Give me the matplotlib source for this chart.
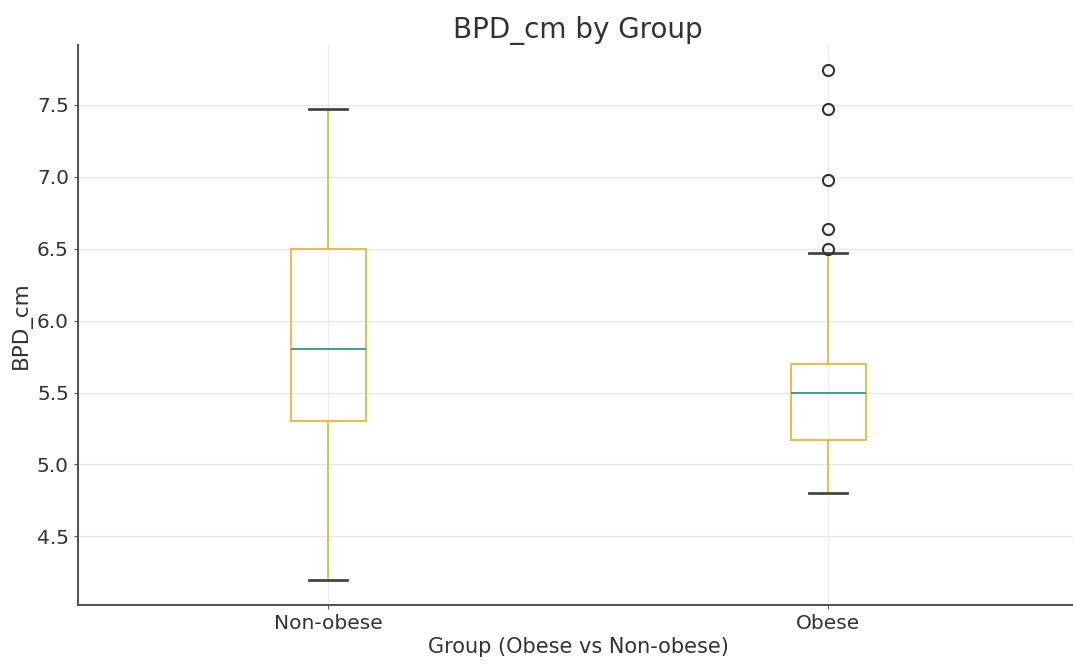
import matplotlib.pyplot as plt

plt.rcParams['font.family'] = ['DejaVu Sans']

# values
groups = ['Non-obese', 'Obese']
whisker_low = [4.2, 4.8]
q1 = [5.30, 5.17]
medians = [5.80, 5.50]
q3 = [6.50, 5.70]
whisker_high = [7.47, 6.47]
outliers = [[], [6.50, 6.64, 6.98, 7.47, 7.74]]

stats = []
for i, name in enumerate(groups):
    stats.append({
        'label': name,
        'whislo': whisker_low[i],
        'q1': q1[i],
        'med': medians[i],
        'q3': q3[i],
        'whishi': whisker_high[i],
        'fliers': outliers[i],
    })

fig = plt.figure(figsize=(10.73, 6.64), dpi=100)
ax = fig.add_axes([78 / 1073, (664 - 605) / 664, 1000 / 1073, 560 / 664])

orange = '#f0b43c'
ax.bxp(stats, positions=[1, 2], widths=0.15,
       boxprops=dict(color=orange, linewidth=1.3),
       whiskerprops=dict(color=orange, linewidth=1.3),
       capprops=dict(color='#444444', linewidth=2),
       medianprops=dict(color='#2a9a8a', linewidth=1.3),
       flierprops=dict(marker='o', markerfacecolor='none', markeredgecolor='#333333',
                       markersize=8, markeredgewidth=1.5))

ax.set_xlim(0.5, 2.5)
ax.set_title('BPD_cm by Group', fontsize=20, color='#333333', pad=5)
ax.set_xlabel('Group (Obese vs Non-obese)', fontsize=15, color='#333333', labelpad=3)
ax.set_ylabel('BPD_cm', fontsize=15.5, color='#333333', labelpad=4)
ax.grid(True, axis='y', color='#e6e6e6', linewidth=1)
ax.grid(True, axis='x', color='#ececec', linewidth=0.8)
ax.set_axisbelow(True)
for side in ['top', 'right']:
    ax.spines[side].set_visible(False)
for side in ['left', 'bottom']:
    ax.spines[side].set_color('#555555')
    ax.spines[side].set_linewidth(1.5)
ax.tick_params(labelsize=14.5, colors='#333333', length=3)
ax.tick_params(axis='both', color='#555555')

plt.savefig('out.png', dpi=100)
